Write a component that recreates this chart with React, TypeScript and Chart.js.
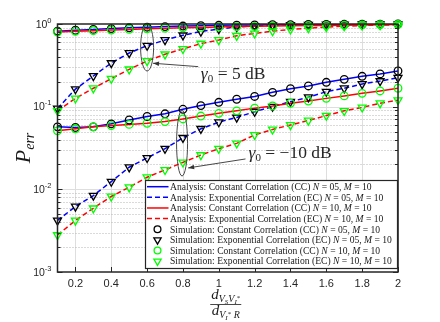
import React, { useEffect, useRef } from 'react';
import { Chart, registerables } from 'chart.js';

Chart.register(...registerables);

// ---------- data ----------
const xValues = [0.1, 0.2, 0.3, 0.4, 0.5, 0.6, 0.7, 0.8, 0.9, 1.0, 1.1, 1.2, 1.3, 1.4, 1.5, 1.6, 1.7, 1.8, 1.9, 2.0];
const xTickValues = [0.2, 0.4, 0.6, 0.8, 1, 1.2, 1.4, 1.6, 1.8, 2];
const xTickLabels = ['0.2', '0.4', '0.6', '0.8', '1', '1.2', '1.4', '1.6', '1.8', '2'];
const yDecadeValues = [1e-3, 1e-2, 1e-1, 1];
const yDecadeExponents = ['-3', '-2', '-1', '0'];

// gamma0 = 5 dB
const ccN05g5 = [0.82, 0.84, 0.86, 0.88, 0.9, 0.915, 0.93, 0.945, 0.955, 0.965, 0.97, 0.975, 0.98, 0.984, 0.987, 0.99, 0.992, 0.994, 0.996, 0.998];
const ecN05g5 = [0.095, 0.163, 0.235, 0.337, 0.446, 0.547, 0.64, 0.73, 0.81, 0.87, 0.92, 0.95, 0.965, 0.975, 0.982, 0.987, 0.99, 0.993, 0.995, 0.997];
const ccN10g5 = [0.8, 0.815, 0.83, 0.845, 0.86, 0.875, 0.89, 0.9, 0.91, 0.92, 0.93, 0.937, 0.944, 0.95, 0.956, 0.962, 0.968, 0.974, 0.98, 0.985];
const ecN10g5 = [0.089, 0.126, 0.167, 0.218, 0.283, 0.357, 0.43, 0.5, 0.58, 0.64, 0.72, 0.77, 0.82, 0.86, 0.89, 0.92, 0.94, 0.96, 0.97, 0.98];
// gamma0 = -10 dB
const ccN05gm10 = [0.057, 0.056, 0.057, 0.062, 0.069, 0.076, 0.082, 0.093, 0.103, 0.113, 0.123, 0.133, 0.149, 0.165, 0.178, 0.197, 0.214, 0.233, 0.249, 0.27];
const ecN05gm10 = [0.0042, 0.0062, 0.0084, 0.0124, 0.0185, 0.024, 0.031, 0.042, 0.054, 0.065, 0.074, 0.087, 0.1, 0.115, 0.13, 0.152, 0.167, 0.188, 0.204, 0.224];
const ccN10gm10 = [0.051, 0.054, 0.057, 0.059, 0.061, 0.063, 0.066, 0.071, 0.077, 0.083, 0.089, 0.096, 0.102, 0.11, 0.117, 0.126, 0.135, 0.145, 0.155, 0.167];
const ecN10gm10 = [0.0028, 0.0042, 0.0059, 0.0082, 0.0106, 0.014, 0.0172, 0.0212, 0.026, 0.031, 0.036, 0.0455, 0.053, 0.06, 0.068, 0.078, 0.089, 0.098, 0.11, 0.12];

const legendPrefixes = [
  'Analysis: Constant Correlation (CC) ',
  'Analysis: Exponential Correlation (EC) ',
  'Analysis: Constant Correlation (CC) ',
  'Analysis: Exponential Correlation (EC) ',
  'Simulation: Constant Correlation (CC) ',
  'Simulation: Exponential Correlation (EC) ',
  'Simulation: Constant Correlation (CC) ',
  'Simulation: Exponential Correlation (EC) ',
];
const legendN = ['05', '05', '10', '10', '05', '05', '10', '10'];
const legendM = ['10', '10', '10', '10', '10', '10', '10', '10'];

// ---------- styles ----------
const BLUE = '#0000ff';
const RED = '#ff0000';
const GREEN = '#00ff00';
const BLACK = '#000000';
const AXIS = '#262626';
const SERIF = "'Liberation Serif', 'DejaVu Serif', serif";
const SANS = "'Liberation Sans', Arial, sans-serif";
const DASH = [5, 3];

type Seg = [string, string, number];

function richWidth(ctx: CanvasRenderingContext2D, segs: Seg[]) {
  let w = 0;
  for (const [t, f] of segs) {
    ctx.font = f;
    w += ctx.measureText(t).width;
  }
  return w;
}
function drawRich(ctx: CanvasRenderingContext2D, segs: Seg[], x: number, y: number) {
  let cx = x;
  for (const [t, f, dy] of segs) {
    ctx.font = f;
    ctx.fillText(t, cx, y + dy);
    cx += ctx.measureText(t).width;
  }
  return cx;
}

function drawMarker(ctx: CanvasRenderingContext2D, kind: string, x: number, y: number, r: number, color: string) {
  ctx.save();
  ctx.strokeStyle = color;
  ctx.lineWidth = 1.3;
  ctx.setLineDash([]);
  ctx.beginPath();
  if (kind === 'circle') {
    ctx.arc(x, y, r, 0, Math.PI * 2);
  } else {
    ctx.moveTo(x, y + r);
    ctx.lineTo(x - r * Math.sin(Math.PI / 3), y - r / 2);
    ctx.lineTo(x + r * Math.sin(Math.PI / 3), y - r / 2);
    ctx.closePath();
  }
  ctx.stroke();
  ctx.restore();
}

const pts = (arr: number[]) => xValues.map((x, i) => ({ x, y: arr[i] }));

function lineDs(arr: number[], color: string, dashed: boolean) {
  return {
    data: pts(arr),
    borderColor: color,
    borderWidth: 1.5,
    borderDash: dashed ? DASH : [],
    pointRadius: 0,
    tension: 0,
    fill: false,
    order: 2,
  };
}
function markerDs(arr: number[], color: string, kind: string) {
  return {
    data: pts(arr),
    showLine: false,
    pointStyle: kind,
    pointRotation: kind === 'triangle' ? 180 : 0,
    pointRadius: kind === 'triangle' ? 4.6 : 3.8,
    pointBorderColor: color,
    pointBackgroundColor: 'rgba(0,0,0,0)',
    pointBorderWidth: 1.3,
    clip: false as any,
    order: 1,
  };
}

const decorPlugin = {
  id: 'decor',
  beforeDatasetsDraw(chart: any) {
    const { ctx, chartArea: a, scales } = chart;
    const xs = scales.x, ys = scales.y;
    ctx.save();
    ctx.fillStyle = '#ffffff';
    ctx.fillRect(a.left, a.top, a.right - a.left, a.bottom - a.top);
    ctx.lineWidth = 1;
    ctx.strokeStyle = '#dedede';
    ctx.setLineDash([]);
    for (const v of xTickValues) {
      const px = Math.round(xs.getPixelForValue(v)) + 0.5;
      ctx.beginPath();
      ctx.moveTo(px, a.top);
      ctx.lineTo(px, a.bottom);
      ctx.stroke();
    }
    for (let d = -3; d < 0; d++) {
      for (let m = 1; m <= 9; m++) {
        const v = m * Math.pow(10, d);
        const py = Math.round(ys.getPixelForValue(v)) + 0.5;
        if (m === 1) {
          if (d === -3) continue;
          ctx.strokeStyle = '#dedede';
          ctx.setLineDash([]);
        } else {
          ctx.strokeStyle = '#b4b4b4';
          ctx.setLineDash([1, 2]);
        }
        ctx.beginPath();
        ctx.moveTo(a.left, py);
        ctx.lineTo(a.right, py);
        ctx.stroke();
      }
    }
    ctx.restore();
  },
  afterDatasetsDraw(chart: any) {
    const { ctx, chartArea: a, scales } = chart;
    const xs = scales.x, ys = scales.y;
    const X = (v: number) => xs.getPixelForValue(v);
    const Y = (v: number) => ys.getPixelForValue(v);
    ctx.save();
    ctx.setLineDash([]);
    ctx.strokeStyle = AXIS;
    ctx.lineWidth = 1.5;
    ctx.strokeRect(a.left, a.top, a.right - a.left, a.bottom - a.top);
    ctx.lineWidth = 1;
    for (let d = -3; d <= 0; d++) {
      for (let m = 1; m <= 9; m++) {
        if (d === 0 && m > 1) break;
        const py = Math.round(Y(m * Math.pow(10, d))) + 0.5;
        const len = m === 1 ? 5 : 3;
        ctx.beginPath();
        ctx.moveTo(a.left, py); ctx.lineTo(a.left + len, py);
        ctx.moveTo(a.right, py); ctx.lineTo(a.right - len, py);
        ctx.stroke();
      }
    }
    for (const v of xTickValues) {
      const px = Math.round(X(v)) + 0.5;
      ctx.beginPath();
      ctx.moveTo(px, a.bottom); ctx.lineTo(px, a.bottom - 5);
      ctx.moveTo(px, a.top); ctx.lineTo(px, a.top + 5);
      ctx.stroke();
    }
    ctx.fillStyle = AXIS;
    ctx.textBaseline = 'top';
    ctx.textAlign = 'center';
    ctx.font = `11px ${SANS}`;
    xTickValues.forEach((v, i) => ctx.fillText(xTickLabels[i], X(v), a.bottom + 6));
    ctx.textAlign = 'left';
    ctx.textBaseline = 'alphabetic';
    yDecadeValues.forEach((v, i) => {
      const segs: Seg[] = [['10', `10.5px ${SANS}`, 0], [yDecadeExponents[i], `7.5px ${SANS}`, -5]];
      const w = richWidth(ctx, segs);
      drawRich(ctx, segs, a.left - 6 - w, Y(v) + 3.8);
    });
    // y title
    ctx.save();
    ctx.fillStyle = '#1a1a1a';
    ctx.translate(22, (a.top + a.bottom) / 2);
    ctx.rotate(-Math.PI / 2);
    const ySegs: Seg[] = [['P', `italic 22px ${SERIF}`, 0], ['err', `italic 14px ${SERIF}`, 4]];
    const yw = richWidth(ctx, ySegs);
    drawRich(ctx, ySegs, -yw / 2, 8);
    ctx.restore();
    // x title (fraction)
    ctx.fillStyle = '#1a1a1a';
    const cx = (a.left + a.right) / 2 - 2;
    const num: Seg[] = [
      ['d', `italic 15px ${SERIF}`, 0],
      ['V', `italic 10px ${SERIF}`, 3],
      ['S', `italic 7px ${SERIF}`, 5],
      ['V', `italic 10px ${SERIF}`, 3],
      ['I', `italic 7px ${SERIF}`, 5],
      ['*', `7px ${SERIF}`, 1],
    ];
    const den: Seg[] = [
      ['d', `italic 15px ${SERIF}`, 0],
      ['V', `italic 10px ${SERIF}`, 3],
      ['I', `italic 7px ${SERIF}`, 5],
      ['*', `7px ${SERIF}`, 1],
      [' R', `italic 10px ${SERIF}`, 3],
    ];
    const nw = richWidth(ctx, num);
    const dw = richWidth(ctx, den);
    drawRich(ctx, num, cx - nw / 2, 298.5);
    drawRich(ctx, den, cx - dw / 2, 314.5);
    const fw = Math.max(nw, dw) + 2;
    ctx.strokeStyle = '#1a1a1a';
    ctx.lineWidth = 0.8;
    ctx.beginPath();
    ctx.moveTo(cx - fw / 2, 304.5);
    ctx.lineTo(cx + fw / 2, 304.5);
    ctx.stroke();

    // annotations
    ctx.strokeStyle = '#333333';
    ctx.lineWidth = 0.9;
    const ell = (xc: number, yTop: number, yBot: number, rx: number) => {
      const px = X(xc);
      const t = Y(yTop), b = Y(yBot);
      ctx.beginPath();
      ctx.ellipse(px, (t + b) / 2, rx, (b - t) / 2, 0, 0, Math.PI * 2);
      ctx.stroke();
    };
    ell(0.6, 1.0, 0.27, 6.5);
    ell(0.795, 0.09, 0.0145, 5.5);
    const arrow = (x1: number, y1: number, x2: number, y2: number) => {
      const p1x = X(x1), p1y = Y(y1), p2x = X(x2), p2y = Y(y2);
      ctx.beginPath();
      ctx.moveTo(p1x, p1y);
      ctx.lineTo(p2x, p2y);
      ctx.stroke();
      const ang = Math.atan2(p2y - p1y, p2x - p1x);
      const L = 6, W = 2.3;
      ctx.fillStyle = '#333333';
      ctx.beginPath();
      ctx.moveTo(p2x, p2y);
      ctx.lineTo(p2x - L * Math.cos(ang) + W * Math.sin(ang), p2y - L * Math.sin(ang) - W * Math.cos(ang));
      ctx.lineTo(p2x - L * Math.cos(ang) - W * Math.sin(ang), p2y - L * Math.sin(ang) + W * Math.cos(ang));
      ctx.closePath();
      ctx.fill();
    };
    arrow(0.885, 0.305, 0.633, 0.335);
    arrow(1.149, 0.0233, 0.829, 0.01815);
    ctx.fillStyle = '#262626';
    const g5: Seg[] = [['γ', `italic 17.5px ${SERIF}`, 0], ['0', `11px ${SERIF}`, 3], [' = 5 dB', `17.5px ${SERIF}`, 0]];
    drawRich(ctx, g5, X(0.9), Y(0.2557) + 6);
    const g10: Seg[] = [['γ', `italic 17.5px ${SERIF}`, 0], ['0', `11px ${SERIF}`, 3], [' = −10 dB', `17.5px ${SERIF}`, 0]];
    drawRich(ctx, g10, X(1.166), Y(0.0286) + 6);
    ctx.restore();
  },
  afterDraw(chart: any) {
    const { ctx } = chart;
    ctx.save();
    const bx = 145, by = 180, bw = 252, bh = 88;
    ctx.fillStyle = '#ffffff';
    ctx.fillRect(bx, by, bw, bh);
    ctx.strokeStyle = AXIS;
    ctx.lineWidth = 1.2;
    ctx.strokeRect(bx + 0.5, by + 0.5, bw, bh);
    const rowSegs = (i: number, s: number): Seg[] => [
      [legendPrefixes[i], `${s}px ${SERIF}`, 0],
      ['N', `italic ${s}px ${SERIF}`, 0],
      [` = ${legendN[i]}, `, `${s}px ${SERIF}`, 0],
      ['M', `italic ${s}px ${SERIF}`, 0],
      [` = ${legendM[i]}`, `${s}px ${SERIF}`, 0],
    ];
    const w10 = richWidth(ctx, rowSegs(5, 10));
    const fs = Math.min(11.5, (10 * 222) / w10);
    const kinds = [
      { c: BLUE, dash: false, m: '' },
      { c: BLUE, dash: true, m: '' },
      { c: RED, dash: false, m: '' },
      { c: RED, dash: true, m: '' },
      { c: BLACK, dash: false, m: 'circle' },
      { c: BLACK, dash: false, m: 'triangle' },
      { c: GREEN, dash: false, m: 'circle' },
      { c: GREEN, dash: false, m: 'triangle' },
    ];
    ctx.textBaseline = 'alphabetic';
    ctx.textAlign = 'left';
    kinds.forEach((k, i) => {
      const cy = 186.7 + i * 10.64;
      if (!k.m) {
        ctx.strokeStyle = k.c;
        ctx.lineWidth = 1.5;
        ctx.setLineDash(k.dash ? DASH : []);
        ctx.beginPath();
        ctx.moveTo(147, cy);
        ctx.lineTo(168.5, cy);
        ctx.stroke();
        ctx.setLineDash([]);
      } else {
        drawMarker(ctx, k.m, 157.5, cy, k.m === 'circle' ? 3.4 : 4.2, k.c);
      }
      ctx.fillStyle = '#1a1a1a';
      drawRich(ctx, rowSegs(i, fs), 170, cy + 3.3);
    });
    ctx.restore();
  },
};

export default function App() {
  const ref = useRef<HTMLCanvasElement | null>(null);
  useEffect(() => {
    if (!ref.current) return;
    const chart = new Chart(ref.current, {
      type: 'line',
      data: {
        datasets: [
          markerDs(ecN10g5, GREEN, 'triangle'),
          markerDs(ccN10g5, GREEN, 'circle'),
          markerDs(ecN05g5, BLACK, 'triangle'),
          markerDs(ccN05g5, BLACK, 'circle'),
          markerDs(ecN10gm10, GREEN, 'triangle'),
          markerDs(ccN10gm10, GREEN, 'circle'),
          markerDs(ecN05gm10, BLACK, 'triangle'),
          markerDs(ccN05gm10, BLACK, 'circle'),
          lineDs(ccN10g5, RED, false),
          lineDs(ecN10g5, RED, true),
          lineDs(ccN05g5, BLUE, false),
          lineDs(ecN05g5, BLUE, true),
          lineDs(ccN10gm10, RED, false),
          lineDs(ecN10gm10, RED, true),
          lineDs(ccN05gm10, BLUE, false),
          lineDs(ecN05gm10, BLUE, true),
        ] as any,
      },
      options: {
        animation: false,
        responsive: false,
        devicePixelRatio: 1,
        layout: { padding: { left: 57.5, top: 24, right: 42, bottom: 50 } },
        plugins: { legend: { display: false }, tooltip: { enabled: false } },
        scales: {
          x: { type: 'linear', min: 0.1, max: 2, display: false },
          y: { type: 'logarithmic', min: 1e-3, max: 1, display: false },
        },
      },
      plugins: [decorPlugin],
    });
    return () => chart.destroy();
  }, []);
  return (
    <div style={{ position: 'fixed', left: 0, top: 0, width: 440, height: 322, background: '#fff' }}>
      <canvas ref={ref} width={440} height={322} style={{ width: 440, height: 322 }} />
    </div>
  );
}
